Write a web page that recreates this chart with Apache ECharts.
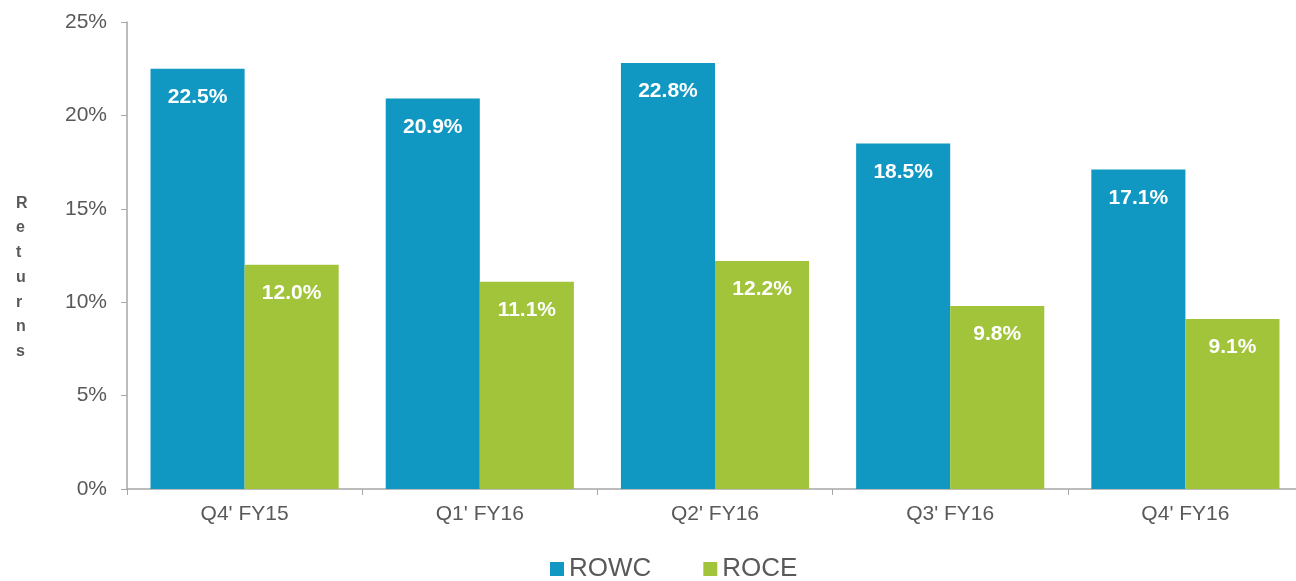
<!DOCTYPE html>
<html>
<head>
<meta charset="utf-8">
<script src="https://cdn.jsdelivr.net/npm/echarts@6/dist/echarts.min.js"></script>
<style>html,body{margin:0;padding:0;background:#fff;}#c{width:1296px;height:581px;}</style>
</head>
<body>
<div id="c"></div>
<script>
const categories = ["Q4' FY15", "Q1' FY16", "Q2' FY16", "Q3' FY16", "Q4' FY16"];
const rowc = [22.5, 20.9, 22.8, 18.5, 17.1];
const roce = [12.0, 11.1, 12.2, 9.8, 9.1];
const seriesNames = ["ROWC", "ROCE"];
const yAxisTitle = "Returns";

const chart = echarts.init(document.getElementById('c'), null, {renderer: 'canvas'});
const labelCfg = {
  show: true, position: 'insideTop', distance: 18,
  color: '#fff', fontFamily: 'Liberation Sans, Arial', fontWeight: 'bold', fontSize: 21,
  formatter: p => p.value.toFixed(1) + '%'
};
chart.setOption({
  animation: false,
  textStyle: {fontFamily: 'Liberation Sans, Arial'},
  title: {
    text: yAxisTitle.split('').join('\n'),
    left: 11, top: 186,
    textStyle: {fontSize: 16, fontWeight: 'bold', color: '#595959', lineHeight: 24.7, fontFamily: 'Liberation Sans, Arial'}
  },
  legend: {
    top: 551, left: 545,
    itemWidth: 14, itemHeight: 14, itemGap: 52,
    icon: 'rect',
    textStyle: {fontSize: 26, color: '#595959'},
    data: seriesNames
  },
  grid: {left: 127, width: 1176, top: 22, height: 467, containLabel: false, outerBoundsMode: 'none'},
  xAxis: {
    type: 'category', data: categories,
    axisLine: {lineStyle: {color: '#a6a6a6', width: 1.5}},
    axisTick: {show: true, length: 6, lineStyle: {color: '#a6a6a6'}},
    axisLabel: {fontSize: 21, color: '#595959', margin: 15}
  },
  yAxis: {
    type: 'value', min: 0, max: 25, interval: 5,
    axisLine: {show: true, lineStyle: {color: '#a6a6a6', width: 1.5}},
    axisTick: {show: true, length: 6, lineStyle: {color: '#a6a6a6'}},
    splitLine: {show: false},
    axisLabel: {fontSize: 21, color: '#595959', margin: 20, formatter: v => v + '%'}
  },
  series: [
    {name: seriesNames[0], type: 'bar', data: rowc, barGap: '0%', barCategoryGap: '20%',
     itemStyle: {color: '#1198C2'}, label: labelCfg},
    {name: seriesNames[1], type: 'bar', data: roce, barGap: '0%', barCategoryGap: '20%',
     itemStyle: {color: '#A2C43A'}, label: labelCfg}
  ]
});
</script>
</body>
</html>
